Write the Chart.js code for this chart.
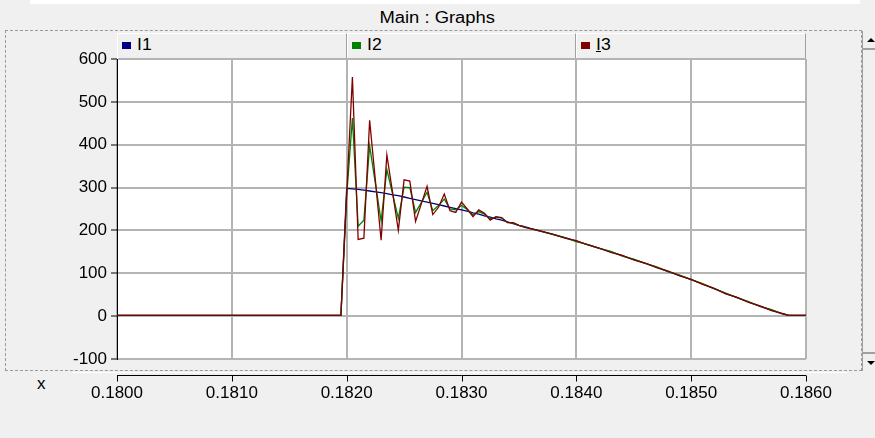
<!DOCTYPE html>
<html>
<head>
<meta charset="utf-8">
<script src="https://cdn.jsdelivr.net/npm/chart.js@4/dist/chart.umd.min.js"></script>
<style>
  html, body { margin: 0; padding: 0; width: 875px; height: 438px; overflow: hidden; background: #f0f0f0; font-family: "Liberation Sans", Arial, sans-serif; }
  #topline { position: absolute; left: 30px; top: 0; width: 830px; height: 4px; background: #fff; }
  #title { position: absolute; left: 0; top: 5px; width: 875px; height: 26px; line-height: 26px; text-align: center; font-size: 16px; color: #000; }
  #title span { display: inline-block; transform: scaleX(1.15); }
  #panel { position: absolute; left: 5px; top: 30px; width: 857px; height: 341px; border: 1px dashed #9a9a9a; box-sizing: border-box; }
  #legend { position: absolute; left: 117px; top: 33px; width: 689px; height: 26px; display: flex; }
  .cell { flex: 1; box-sizing: border-box; border-top: 1px solid #fff; border-left: 1px solid #fff; border-right: 1px solid #a0a0a0; font-size: 16px; line-height: 22px; padding-left: 4px; color: #000; }
  .cell span.t { display: inline-block; transform: scaleX(1.1); transform-origin: left; }
  .sw { display: inline-block; width: 9px; height: 7px; margin-right: 6px; vertical-align: 1px; }
  #plotbg { position: absolute; left: 117px; top: 59px; width: 689px; height: 300px; background: #fff; }
  #scroll { position: absolute; left: 862px; top: 31px; width: 13px; height: 340px; border-left: 1px solid #a0a0a0; box-sizing: border-box; }
  #btnup, #btndn { position: absolute; left: 0; width: 13px; height: 17px; }
  #btnup { top: 0; border-bottom: 2px solid #a0a0a0; }
  #btndn { bottom: 0; border-top: 2px solid #a0a0a0; }
  .tri { position: absolute; left: 4px; width: 0; height: 0; border-left: 4px solid transparent; border-right: 4px solid transparent; }
  #btnup .tri { top: 7px; border-bottom: 4px solid #000; }
  #btndn .tri { top: 7px; border-top: 4px solid #000; }
  #axisline { position: absolute; left: 72px; top: 372px; width: 775px; height: 1px; background: #fff; }
  #xlab { position: absolute; left: 37px; top: 374px; font-size: 17px; color: #000; }
  #c { position: absolute; left: 0; top: 0; }
</style>
</head>
<body>
<div id="topline"></div>
<div id="title"><span>Main : Graphs</span></div>
<div id="panel"></div>
<div id="legend"></div>
<div id="plotbg"></div>
<div id="scroll"><div id="btnup"><div class="tri"></div></div><div id="btndn"><div class="tri"></div></div></div>
<div id="axisline"></div>
<div id="xlab">x</div>
<canvas id="c" width="875" height="438"></canvas>
<script>
// sample times (s), shared by the three currents
const times = [
    0.1800, 0.18195,
    0.1820, 0.18205, 0.1821, 0.18215, 0.1822, 0.18225, 0.1823, 0.18235, 0.1824, 0.18245,
    0.1825, 0.18255, 0.1826, 0.18265, 0.1827, 0.18275, 0.1828, 0.18285, 0.1829, 0.18295,
    0.1830, 0.18305, 0.1831, 0.18315, 0.1832, 0.18325, 0.1833, 0.18335, 0.1834, 0.18345,
    0.1835, 0.18355, 0.1836,
    0.1837, 0.1838, 0.1839, 0.1840, 0.1841, 0.1842, 0.1843, 0.1844, 0.1845, 0.1846,
    0.1847, 0.1848, 0.1849, 0.1850, 0.1851, 0.1852, 0.1853, 0.1854, 0.1855, 0.1856,
    0.1857, 0.1858, 0.18585, 0.1860
];
const i1 = [
    2, 2,
    298, 297, 296, 294, 292, 290, 288, 286, 283, 281,
    278, 275, 272, 269, 266, 263, 260, 257, 254, 251,
    248, 245, 241, 238, 234, 231, 227, 224, 220, 216,
    212, 209, 205,
    198, 190, 183, 175, 167, 158, 150, 141, 132, 123,
    114, 104, 95, 85, 75, 64, 53, 43, 33, 23,
    14, 5, 2, 2
];
const i2 = [
    2, 2,
    280, 462, 210, 224, 397, 310, 222, 342, 285, 228,
    301, 300, 242, 265, 289, 246, 258, 273, 250, 248,
    258, 249, 236, 244, 238, 227, 231, 229, 219, 217,
    212, 208, 204,
    197, 191, 183, 174, 167, 158, 151, 140, 133, 123,
    115, 104, 96, 85, 76, 64, 54, 43, 34, 23,
    15, 5, 2, 2
];
const i3 = [
    2, 2,
    285, 558, 179, 182, 457, 317, 177, 376, 288, 200,
    318, 315, 221, 262, 303, 237, 254, 285, 246, 242,
    266, 250, 232, 248, 240, 224, 232, 230, 218, 218,
    212, 207, 204,
    198, 191, 182, 176, 166, 159, 149, 142, 131, 124,
    113, 105, 94, 86, 74, 65, 52, 44, 32, 24,
    13, 6, 2, 2
];
const seriesNames = ['I1', 'I2', 'I3'];
const seriesColors = ['#000080', '#008000', '#800000'];
const xTicks = [0.1800, 0.1810, 0.1820, 0.1830, 0.1840, 0.1850, 0.1860];
const yTicks = [-100, 0, 100, 200, 300, 400, 500, 600];

const FONT = { family: '"Liberation Sans", Arial, sans-serif', size: 17 };

// legend strip (html, like the window header cells)
const legend = document.getElementById('legend');
seriesNames.forEach((name, k) => {
    const cell = document.createElement('div');
    cell.className = 'cell';
    const label = k === 2 ? '<u>I</u>3' : name;
    cell.innerHTML = '<span class="sw" style="background:' + seriesColors[k] + '"></span><span class="t">' + label + '</span>';
    legend.appendChild(cell);
});

const toPoints = vals => vals.map((v, k) => ({ x: times[k], y: v }));

// separate time axis drawn under the panel
const timeAxis = {
    id: 'timeAxis',
    afterDraw(chart) {
        const { ctx, scales: { x } } = chart;
        const y0 = 375.5;
        ctx.save();
        ctx.strokeStyle = '#000';
        ctx.lineWidth = 1;
        ctx.beginPath();
        ctx.moveTo(x.left, y0);
        ctx.lineTo(x.right, y0);
        x.ticks.forEach(t => {
            const px = Math.round(x.getPixelForValue(t.value)) + 0.5;
            ctx.moveTo(px, y0);
            ctx.lineTo(px, y0 + 6);
        });
        ctx.stroke();
        ctx.restore();
    }
};

new Chart(document.getElementById('c'), {
    type: 'line',
    data: {
        datasets: [
            { label: 'I1', data: toPoints(i1), borderColor: seriesColors[0], borderWidth: 1.3, pointRadius: 0, tension: 0, order: 2 },
            { label: 'I2', data: toPoints(i2), borderColor: seriesColors[1], borderWidth: 1.3, pointRadius: 0, tension: 0, order: 1 },
            { label: 'I3', data: toPoints(i3), borderColor: seriesColors[2], borderWidth: 1.3, pointRadius: 0, tension: 0, order: 0 }
        ]
    },
    options: {
        responsive: false,
        animation: false,
        devicePixelRatio: 1,
        layout: { padding: { left: 0, top: 59, right: 69, bottom: 0 } },
        plugins: { legend: { display: false }, tooltip: { enabled: false } },
        scales: {
            x: {
                type: 'linear', min: 0.18, max: 0.186,
                afterBuildTicks: a => { a.ticks = xTicks.map(v => ({ value: v })); },
                afterFit: s => { s.height = 79; },
                grid: { color: '#b4b4b4', lineWidth: 2, drawTicks: false },
                border: { display: false },
                ticks: { padding: 24, color: '#000', font: FONT, autoSkip: false, maxRotation: 0, callback: v => v.toFixed(4) }
            },
            y: {
                min: -100, max: 600,
                afterBuildTicks: a => { a.ticks = yTicks.map(v => ({ value: v })); },
                afterFit: s => { s.width = 117; },
                grid: { color: '#b4b4b4', lineWidth: 2, tickLength: 6, tickColor: '#000', tickWidth: 1 },
                border: { color: '#000', width: 1 },
                ticks: { padding: 4, color: '#000', font: FONT, callback: v => String(v) }
            }
        }
    },
    plugins: [timeAxis]
});
</script>
</body>
</html>
